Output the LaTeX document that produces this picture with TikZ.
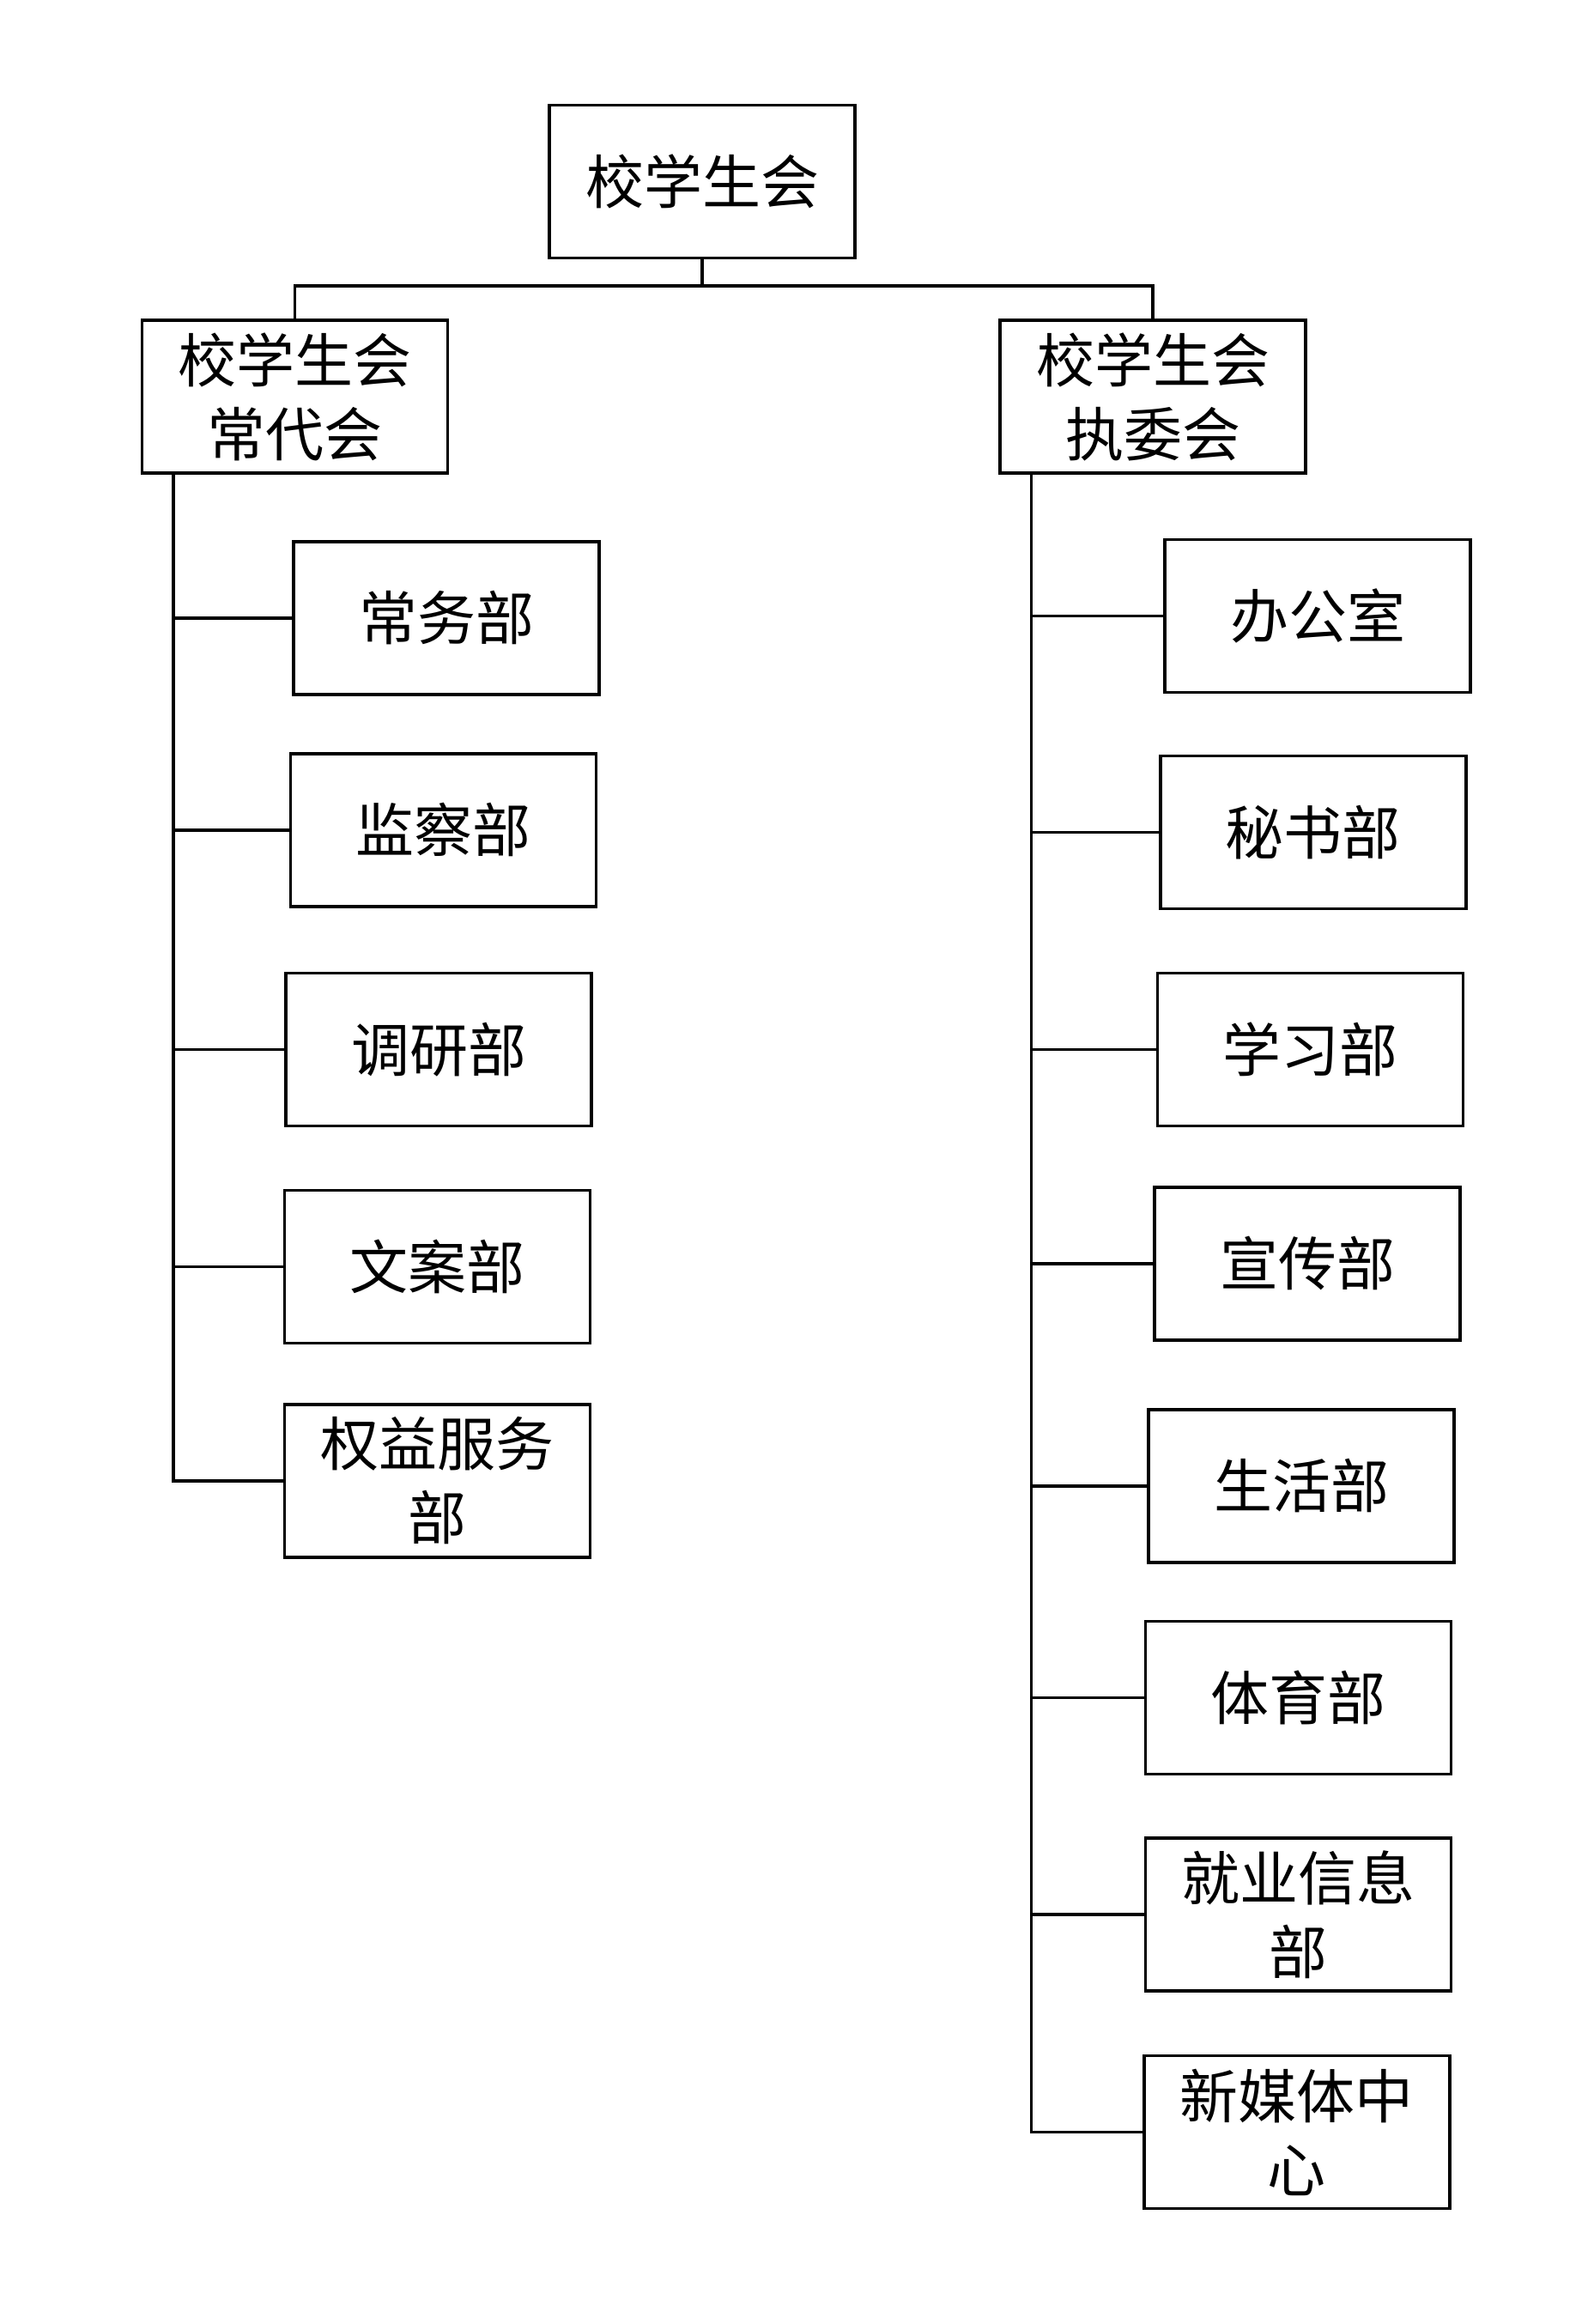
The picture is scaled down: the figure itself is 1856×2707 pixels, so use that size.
\documentclass[tikz,border=0pt]{standalone}
\usepackage{fontspec}
\newfontfamily\cjk{Noto Sans CJK SC}
\begin{document}
\begin{tikzpicture}[x=1pt,y=-1pt,line width=3.5pt]
		\tikzset{box/.style={draw,minimum width=356pt,minimum height=178pt,inner sep=0pt,align=center,font=\cjk\fontsize{68}{86}\selectfont}}
		\useasboundingbox (0,0) rectangle (1856,2707);
		% top level
		\node[box] (xsh) at (818,211.5) {校学生会};
		\node[box] (cdh) at (343.6,462) {校学生会\\常代会};
		\node[box] (zwh) at (1343.2,462) {校学生会\\执委会};
		\coordinate (j) at (818,333.2);
		\draw (xsh.south) -- (j);
		\draw (cdh.north) |- (j) -| (zwh.north);
		% left side
		\node[box] (cwb) at (520,720) {常务部};
		\node[box] (jcb) at (516.4,966.8) {监察部};
		\node[box] (dyb) at (511.2,1222.4) {调研部};
		\node[box] (wab) at (509.5,1475.3) {文案部};
		\node[box] (qyb) at (509.5,1724.8) {权益服务\\部};
		\coordinate (lt) at (202,462);
		\draw (lt |- cdh.south) |- (qyb.west);
		\foreach \n in {cwb,jcb,dyb,wab}
			\draw (lt |- \n.west) -- (\n.west);
		% right side
		\node[box] (bgs) at (1535,717.4) {办公室};
		\node[box] (msb) at (1529.9,969.4) {秘书部};
		\node[box] (xxb) at (1526.4,1222.4) {学习部};
		\node[box] (xcb) at (1523,1471.9) {宣传部};
		\node[box] (shb) at (1516,1730.8) {生活部};
		\node[box] (tyb) at (1512.6,1977.7) {体育部};
		\node[box] (jyb) at (1512.6,2229.8) {就业信息\\部};
		\node[box] (xmt) at (1510.9,2483.6) {新媒体中\\心};
		\coordinate (rt) at (1201.7,462);
		\draw (rt |- zwh.south) |- (xmt.west);
		\foreach \n in {bgs,msb,xxb,xcb,shb,tyb,jyb}
			\draw (rt |- \n.west) -- (\n.west);
\end{tikzpicture}
\end{document}
